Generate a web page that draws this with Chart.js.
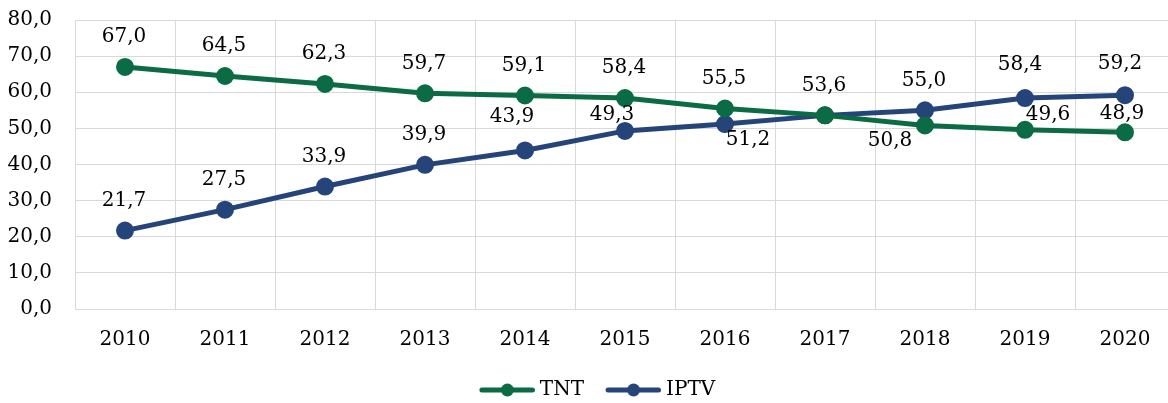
<!DOCTYPE html>
<html>
<head>
<meta charset="utf-8">
<script src="https://cdn.jsdelivr.net/npm/chart.js@4/dist/chart.umd.min.js"></script>
<style>
  html, body { margin: 0; padding: 0; background: #fff; overflow: hidden; }
</style>
</head>
<body>
<canvas id="grafica" width="1195" height="403"></canvas>
<script>
// datos
const anios = ["2010", "2011", "2012", "2013", "2014", "2015", "2016", "2017", "2018", "2019", "2020"];
const tnt = [67.0, 64.5, 62.3, 59.7, 59.1, 58.4, 55.5, 53.6, 50.8, 49.6, 48.9];
const iptv = [21.7, 27.5, 33.9, 39.9, 43.9, 49.3, 51.2, 53.6, 55.0, 58.4, 59.2];

const verde = "#0B6B45";
const azul = "#254479";
const fuente = "'DejaVu Serif', serif";

// donde va cada etiqueta (desplazamiento respecto al punto)
const arriba = { dx: -1, dy: -30 };
const posTnt = [arriba, arriba, arriba, arriba, arriba, arriba, arriba, arriba,
  { dx: -35, dy: 15 }, { dx: 23, dy: -15 }, { dx: -3, dy: -19 }];
const posIptv = [arriba, arriba, arriba, arriba, { dx: -13, dy: -34 }, { dx: -13, dy: -16 },
  { dx: 23, dy: 16 }, null, arriba, { dx: -5, dy: -33 }, { dx: -5, dy: -31 }];

// icono de la leyenda: linea con circulo
function icono(color) {
  const c = document.createElement("canvas");
  c.width = 75; c.height = 16;
  const x = c.getContext("2d");
  x.strokeStyle = color; x.lineWidth = 5; x.lineCap = "round";
  x.beginPath(); x.moveTo(22, 8); x.lineTo(72.5, 8); x.stroke();
  x.fillStyle = color;
  x.beginPath(); x.arc(47.5, 8, 6.5, 0, Math.PI * 2); x.fill();
  return c;
}

const etiquetas = {
  id: "etiquetas",
  afterDatasetsDraw(chart) {
    const ctx = chart.ctx;
    ctx.save();
    ctx.font = "20px " + fuente;
    ctx.fillStyle = "#000";
    ctx.textAlign = "center";
    ctx.textBaseline = "middle";
    const posiciones = [posTnt, posIptv];
    chart.data.datasets.forEach(function(ds, i) {
      const meta = chart.getDatasetMeta(i);
      meta.data.forEach(function(p, j) {
        const pos = posiciones[i][j];
        if (!pos) return;
        ctx.fillText(ds.data[j].toFixed(1).replace(".", ","), p.x + pos.dx, p.y + pos.dy);
      });
    });
    ctx.restore();
  }
};

new Chart(document.getElementById("grafica").getContext("2d"), {
  type: "line",
  data: {
    labels: anios,
    datasets: [
      {
        label: "TNT",
        data: tnt,
        borderColor: verde,
        backgroundColor: verde,
        borderWidth: 5,
        pointRadius: 6.5,
        pointHoverRadius: 6.5,
        pointStyle: "circle"
      },
      {
        label: "IPTV",
        data: iptv,
        borderColor: azul,
        backgroundColor: azul,
        borderWidth: 5,
        pointRadius: 6.5,
        pointHoverRadius: 6.5,
        pointStyle: "circle"
      }
    ]
  },
  options: {
    responsive: false,
    animation: false,
    layout: { padding: { top: 20, right: 20, left: 5, bottom: -7 } },
    scales: {
      x: {
        offset: true,
        grid: { offset: true, color: "#d9d9d9", drawTicks: false },
        border: { color: "#d9d9d9" },
        ticks: { color: "#000", font: { family: fuente, size: 20 }, padding: 19 },
        afterFit: function(s) { s.height = 64; }
      },
      y: {
        min: 0,
        max: 80,
        grid: { color: "#d9d9d9", drawTicks: false },
        border: { color: "#d9d9d9" },
        ticks: {
          stepSize: 10,
          color: "#000",
          padding: 23,
          font: { family: fuente, size: 20 },
          callback: function(v) { return v.toFixed(1).replace(".", ","); }
        },
        afterFit: function(s) {
          s.width = 70;
          s.paddingTop = 0;
          s.paddingBottom = 0;
        }
      }
    },
    plugins: {
      tooltip: { enabled: false },
      legend: {
        position: "bottom",
        labels: {
          color: "#000",
          font: { family: fuente, size: 20 },
          usePointStyle: true,
          pointStyleWidth: 65,
          padding: 7,
          generateLabels: function(chart) {
            return chart.data.datasets.map(function(ds, i) {
              return {
                text: ds.label,
                fillStyle: ds.borderColor,
                strokeStyle: ds.borderColor,
                lineWidth: 0,
                pointStyle: icono(ds.borderColor),
                datasetIndex: i
              };
            });
          }
        }
      }
    }
  },
  plugins: [etiquetas]
});
</script>
</body>
</html>
